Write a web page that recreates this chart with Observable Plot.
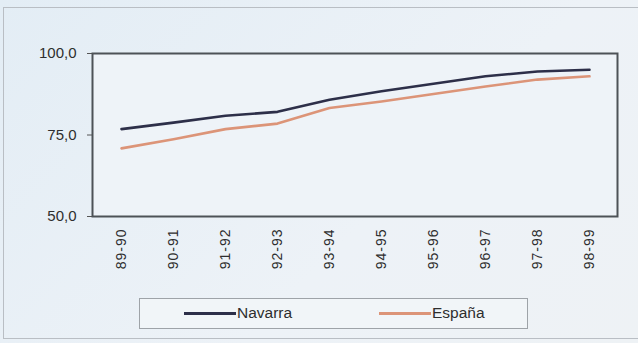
<!DOCTYPE html>
<html>
<head>
<meta charset="utf-8">
<script src="https://cdn.jsdelivr.net/npm/d3@7"></script>
<script src="https://cdn.jsdelivr.net/npm/@observablehq/plot@0.6"></script>
<style>
  html, body { margin: 0; padding: 0; background: #e8f0f6; }
  #wrap { position: relative; width: 638px; height: 343px; overflow: hidden;
          background: linear-gradient(135deg, #e3edf5 0%, #edf2f7 60%, #eef2f5 100%);
          font-family: "Liberation Sans", Arial, sans-serif; }
  #border { position: absolute; left: 3px; top: 7px; width: 660px; height: 332px;
            border: 1.5px solid #b9bec4; box-sizing: border-box; }
  #chart { position: absolute; left: 0; top: 0; }
  #chart svg [aria-label="x-axis tick label"] text { letter-spacing: 1px; }
  #legend { position: absolute; left: 139px; top: 298px; width: 389px; height: 31px;
            box-sizing: border-box; border: 1.5px solid #9ea3a8; background: #f1f5f8;
            font-size: 15.5px; color: #2e2e2e; }
  .item { position: absolute; top: 0; height: 28px; display: flex; align-items: center; }
  .swatch { display: inline-block; width: 52px; height: 3px; margin-right: 1px; }
</style>
</head>
<body>
<div id="wrap">
  <div id="border"></div>
  <div id="chart"></div>
  <div id="legend"></div>
</div>
<script>
const categories = ["89-90","90-91","91-92","92-93","93-94","94-95","95-96","96-97","97-98","98-99"];
const navarra = [76.8, 78.8, 80.9, 82.1, 85.8, 88.4, 90.7, 93.0, 94.5, 95.0];
const espana  = [70.9, 73.7, 76.8, 78.5, 83.3, 85.3, 87.6, 89.9, 92.0, 93.0];
const seriesNames = ["Navarra", "España"];
const seriesColors = ["#2d2f49", "#dc9478"];
const yTicks = [50, 75, 100];

const data = [];
categories.forEach((c, i) => {
  data.push({cat: c, value: navarra[i], serie: seriesNames[0]});
  data.push({cat: c, value: espana[i], serie: seriesNames[1]});
});

const fmt = d => d3.format(".1f")(d).replace(".", ",");

const chart = Plot.plot({
  width: 638,
  height: 343,
  marginTop: 53,
  marginBottom: 127,
  marginLeft: 92,
  marginRight: 21,
  style: {background: "transparent", fontFamily: "Liberation Sans, Arial, sans-serif", color: "#2e2e2e"},
  x: {type: "point", domain: categories, padding: 0.5, label: null},
  y: {domain: [50, 100], label: null},
  color: {domain: seriesNames, range: seriesColors},
  marks: [
    Plot.frame({fill: "#eef3f8"}),
    Plot.axisY({ticks: yTicks, tickFormat: fmt, tickSize: 5, tickPadding: 11, fontSize: 15, stroke: "#555", fill: "#2e2e2e", label: null}),
    Plot.axisX({tickRotate: -90, tickSize: 0, tickPadding: 12, fontSize: 14, fill: "#2e2e2e", label: null}),
    Plot.line(data, {x: "cat", y: "value", stroke: "serie", strokeWidth: 2.6}),
    Plot.frame({stroke: "#4d5257", strokeWidth: 2})
  ]
});
document.getElementById("chart").appendChild(chart);

const legend = document.getElementById("legend");
const itemX = [44, 239];
seriesNames.forEach((name, i) => {
  const it = document.createElement("div");
  it.className = "item";
  it.style.left = itemX[i] + "px";
  const sw = document.createElement("span");
  sw.className = "swatch";
  sw.style.background = seriesColors[i];
  it.appendChild(sw);
  it.appendChild(document.createTextNode(name));
  legend.appendChild(it);
});
</script>
</body>
</html>
